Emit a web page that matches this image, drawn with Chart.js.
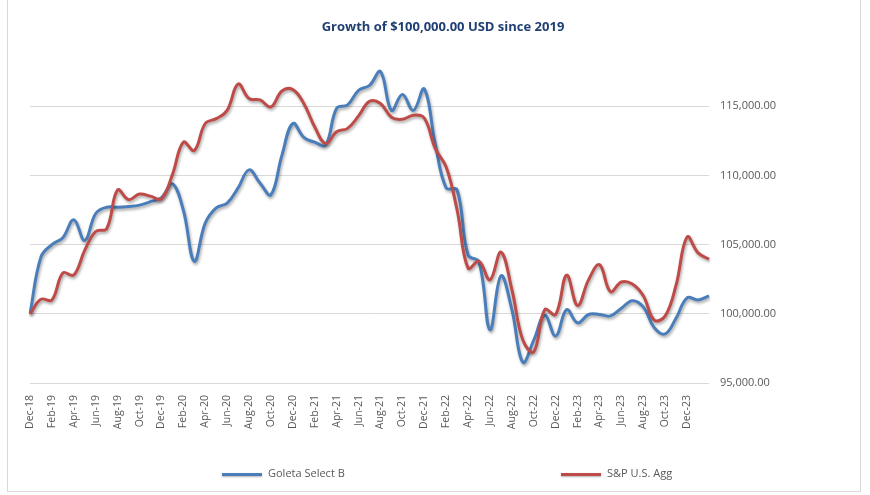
<!DOCTYPE html>
<html>
<head>
<meta charset="utf-8">
<script src="https://cdn.jsdelivr.net/npm/chart.js@4/dist/chart.umd.min.js"></script>
<style>
  html, body { margin: 0; padding: 0; background: #fff; }
  #wrap { position: relative; width: 870px; height: 495px; font-family: "Open Sans", sans-serif; }
  #frame { position: absolute; left: 7px; top: -1px; width: 854px; height: 493px; border: 1px solid #d9d9d9; box-sizing: border-box; }
  #title { position: absolute; left: 0; width: 886px; top: 17px; text-align: center; font-weight: bold; font-size: 13px; color: #1f3f73; }
  .leg { position: absolute; top: 465px; font-size: 11px; color: #595959; }
  .leg span { display: inline-block; width: 40px; height: 3px; vertical-align: middle; margin-right: 6px; box-shadow: 0 1px 2px rgba(0,0,0,0.3); }
  canvas { position: absolute; left: 0; top: 0; }
</style>
</head>
<body>
<div id="wrap">
  <div id="frame"></div>
  <canvas id="chart" width="870" height="495"></canvas>
  <div id="title">Growth of $100,000.00 USD since 2019</div>
  <div class="leg" style="left:222px"><span style="background:#4a7ebb"></span>Goleta Select B</div>
  <div class="leg" style="left:561px"><span style="background:#be4b48"></span>S&amp;P U.S. Agg</div>
</div>
<script>
// Month labels, Dec-18 .. Feb-24
const months = [
    'Dec-18', 'Jan-19', 'Feb-19', 'Mar-19', 'Apr-19', 'May-19', 'Jun-19', 'Jul-19', 'Aug-19', 'Sep-19', 'Oct-19', 'Nov-19',
    'Dec-19', 'Jan-20', 'Feb-20', 'Mar-20', 'Apr-20', 'May-20', 'Jun-20', 'Jul-20', 'Aug-20', 'Sep-20', 'Oct-20', 'Nov-20',
    'Dec-20', 'Jan-21', 'Feb-21', 'Mar-21', 'Apr-21', 'May-21', 'Jun-21', 'Jul-21', 'Aug-21', 'Sep-21', 'Oct-21', 'Nov-21',
    'Dec-21', 'Jan-22', 'Feb-22', 'Mar-22', 'Apr-22', 'May-22', 'Jun-22', 'Jul-22', 'Aug-22', 'Sep-22', 'Oct-22', 'Nov-22',
    'Dec-22', 'Jan-23', 'Feb-23', 'Mar-23', 'Apr-23', 'May-23', 'Jun-23', 'Jul-23', 'Aug-23', 'Sep-23', 'Oct-23', 'Nov-23',
    'Dec-23', 'Jan-24', 'Feb-24'
];

const goletaSelectB = [
    100000, 104100, 105000, 105500, 106800, 105300, 107250, 107700, 107700, 107750, 107850, 108100,
    108400, 109400, 107500, 103800, 106550, 107650, 108000, 109100, 110400, 109450, 108600, 111450,
    113750, 112750, 112400, 112200, 114850, 115100, 116150, 116500, 117500, 114700, 115850, 114700,
    116250, 112300, 109100, 108950, 104250, 103750, 98850, 102750, 100300, 96500, 98100, 99900,
    98400, 100300, 99350, 99950, 99950, 99850, 100400, 100950, 100500, 99000, 98550, 99700,
    101150, 101000, 101300
];

const spUsAgg = [
    100000, 101050, 101000, 102950, 102800, 104600, 105950, 106150, 108950, 108250, 108650, 108500,
    108300, 110050, 112400, 111800, 113750, 114100, 114700, 116600, 115550, 115450, 114950, 116100,
    116200, 115200, 113500, 112300, 113150, 113400, 114300, 115350, 115200, 114200, 114050, 114350,
    114150, 111950, 110600, 107500, 103300, 103800, 102450, 104450, 101750, 98100, 97250, 100300,
    99950, 102800, 100600, 102450, 103550, 101600, 102300, 102150, 101300, 99550, 99850, 102100,
    105550, 104400, 103950
];

const yTicks = [95000, 100000, 105000, 110000, 115000];

// soft shadow under the lines, like the Excel original
const lineShadow = {
    id: 'lineShadow',
    beforeDatasetsDraw(chart) {
        const ctx = chart.ctx;
        ctx.save();
        ctx.shadowColor = 'rgba(0, 0, 0, 0.35)';
        ctx.shadowBlur = 3;
        ctx.shadowOffsetX = 1;
        ctx.shadowOffsetY = 2;
    },
    afterDatasetsDraw(chart) {
        chart.ctx.restore();
    }
};

new Chart(document.getElementById('chart').getContext('2d'), {
    type: 'line',
    data: {
        labels: months,
        datasets: [
            {
                label: 'Goleta Select B',
                data: goletaSelectB,
                borderColor: '#4a7ebb',
                borderWidth: 3,
                pointRadius: 0,
                tension: 0.4,
                order: 1
            },
            {
                label: 'S&P U.S. Agg',
                data: spUsAgg,
                borderColor: '#be4b48',
                borderWidth: 3,
                pointRadius: 0,
                tension: 0.4,
                order: 0
            }
        ]
    },
    plugins: [lineShadow],
    options: {
        responsive: false,
        animation: false,
        layout: { padding: { left: 30, right: 61, top: 37, bottom: 52 } },
        plugins: {
            legend: { display: false },
            tooltip: { enabled: false }
        },
        scales: {
            x: {
                grid: { display: false },
                border: { display: false },
                afterFit: scale => { scale.height = 60; },
                ticks: {
                    autoSkip: false,
                    minRotation: 90,
                    maxRotation: 90,
                    padding: 4,
                    color: '#595959',
                    font: { family: 'Open Sans', size: 10.5 },
                    callback: (val, i) => (i % 2 === 0 && i < months.length - 1) ? months[i] : ''
                }
            },
            y: {
                position: 'right',
                min: 95000,
                max: 120000,
                afterBuildTicks: scale => { scale.ticks = yTicks.map(v => ({ value: v })); },
                afterFit: scale => { scale.width = 100; },
                grid: { color: '#d9d9d9', lineWidth: 1, drawTicks: false },
                border: { display: false },
                ticks: {
                    padding: 11,
                    color: '#595959',
                    font: { family: 'Open Sans', size: 11 },
                    callback: v => v.toLocaleString('en-US', { minimumFractionDigits: 2, maximumFractionDigits: 2 })
                }
            }
        }
    }
});
</script>
</body>
</html>
